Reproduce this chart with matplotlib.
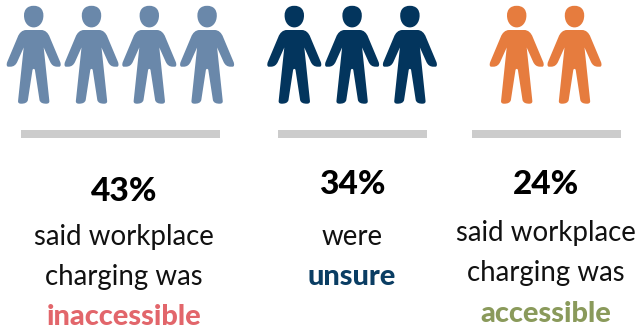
import matplotlib
matplotlib.use("Agg")
import matplotlib.pyplot as plt
from matplotlib.path import Path
from matplotlib.patches import PathPatch, Rectangle
from matplotlib.transforms import Affine2D

# Survey results
percent_labels = ["43%", "34%", "24%"]
people_counts = [4, 3, 2]
answer_lines = [["said workplace", "charging was"], ["were"], ["said workplace", "charging was"]]
answer_words = ["inaccessible", "unsure", "accessible"]

people_colors = ["#6A88AA", "#03355D", "#E67C3E"]
word_colors = ["#E2666B", "#0A3D63", "#8A9A5B"]
RULE_COLOR = "#CCCCCC"

first_person_x = [33.7, 294.3, 516.7]
PERSON_STEP = 57.8
rule_spans = [(21, 220), (278, 426.5), (472.3, 621)]
text_centers = [124.3, 352, 545.5]
percent_baselines = [201, 194.5, 194.5]
line_baselines = [[245, 285], [245], [241.5, 281.5]]
word_baselines = [325, 285, 321.7]

FONT = "Lato"


def person_path():
    """Pictogram of a standing person, origin at the head's centre line and y pointing down."""
    M, L, C, Z = Path.MOVETO, Path.LINETO, Path.CURVE4, Path.CLOSEPOLY
    verts, codes = [], []

    def add(points, code):
        verts.extend(points)
        codes.extend([code] * len(points))

    # Head
    add([(0, 5.8)], M)
    add([(6.3, 5.8), (9.7, 9.5), (9.7, 15.5)], C)
    add([(9.7, 22.5), (5.5, 27.4), (0, 27.4)], C)
    add([(-5.5, 27.4), (-9.7, 22.5), (-9.7, 15.5)], C)
    add([(-9.7, 9.5), (-6.3, 5.8), (0, 5.8)], C)
    add([(0, 5.8)], Z)

    # Right half of the body, top centre down to the crotch
    right = [
        (L, [(7.5, 30)]),
        (C, [(11.5, 30), (14.5, 33), (16, 37)]),
        (L, [(26.5, 62)]),
        (C, [(27.3, 64), (27.3, 66.7), (25.5, 66.7)]),
        (L, [(23.5, 66.7)]),
        (C, [(20, 66.7), (18, 65), (16.5, 62)]),
        (L, [(10, 47.5)]),
        (L, [(15.6, 100.5)]),
        (C, [(16, 103), (14.5, 103.7), (12.5, 103.7)]),
        (C, [(9.5, 103.7), (6.5, 103), (5.8, 100)]),
        (L, [(1.2, 70)]),
        (C, [(0.8, 68.5), (-0.8, 68.5), (-1.2, 70)]),
    ]
    add([(0, 30)], M)
    for code, pts in right:
        add(pts, code)
    # Left half mirrors the right one, walked back up to the shoulder
    left = [
        (L, [(-5.8, 100)]),
        (C, [(-6.5, 103), (-9.5, 103.7), (-12.5, 103.7)]),
        (C, [(-14.5, 103.7), (-16, 103), (-15.6, 100.5)]),
        (L, [(-10, 47.5)]),
        (L, [(-16.5, 62)]),
        (C, [(-18, 65), (-20, 66.7), (-23.5, 66.7)]),
        (L, [(-25.5, 66.7)]),
        (C, [(-27.3, 66.7), (-27.3, 64), (-26.5, 62)]),
        (L, [(-16, 37)]),
        (C, [(-14.5, 33), (-11.5, 30), (-7.5, 30)]),
        (L, [(0, 30)]),
    ]
    for code, pts in left:
        add(pts, code)
    add([(0, 30)], Z)
    return Path(verts, codes)


fig = plt.figure(figsize=(6.35, 3.31), dpi=100)
ax = fig.add_axes([0, 0, 1, 1])
ax.set_xlim(0, 635)
ax.set_ylim(331, 0)
ax.axis("off")

body = person_path()
for count, start, color in zip(people_counts, first_person_x, people_colors):
    for i in range(count):
        offset = Affine2D().translate(start + i * PERSON_STEP, 0)
        ax.add_patch(PathPatch(body, facecolor=color, edgecolor="none",
                               transform=offset + ax.transData))

for (x0, x1) in rule_spans:
    ax.add_patch(Rectangle((x0, 130), x1 - x0, 7.7, facecolor=RULE_COLOR, edgecolor="none"))

for i, cx in enumerate(text_centers):
    ax.text(cx, percent_baselines[i], percent_labels[i], ha="center", va="baseline",
            fontsize=24, fontweight="black", color="black", family=FONT)
    for line, y in zip(answer_lines[i], line_baselines[i]):
        ax.text(cx, y, line, ha="center", va="baseline", fontsize=19.9,
                color="#111111", family=FONT)
    ax.text(cx, word_baselines[i], answer_words[i], ha="center", va="baseline",
            fontsize=20.8, fontweight="black", color=word_colors[i], family=FONT)

fig.savefig("out.png", dpi=100, facecolor="white")
